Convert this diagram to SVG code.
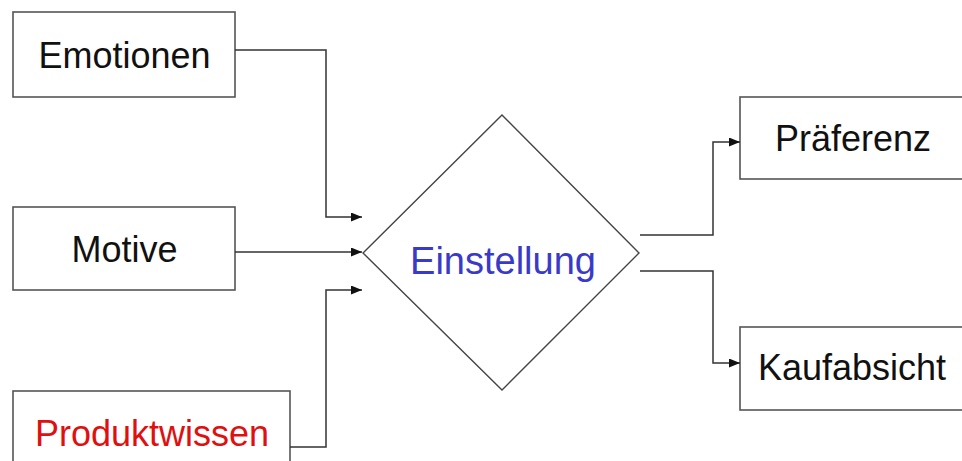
<svg xmlns="http://www.w3.org/2000/svg" width="962" height="461" viewBox="0 0 962 461">
<style>
.box{fill:#fff;stroke:#555;stroke-width:1.6}
.dia{fill:#fff;stroke:#444;stroke-width:1.4}
.lbl{font-family:"Liberation Sans",Arial,sans-serif;font-size:36px;fill:#111}
.con{fill:none;stroke:#333;stroke-width:1.5}
</style>
<defs>
<marker id="ah" viewBox="0 0 11 9" refX="11" refY="4.5" markerWidth="11" markerHeight="9" markerUnits="userSpaceOnUse" orient="auto">
<path d="M0,0 L11,4.5 L0,9 Z" fill="#111"/>
</marker>
</defs>
<rect width="962" height="461" fill="#fff"/>
<g id="emotionen">
<rect class="box" x="13" y="12" width="222" height="85"/>
<text class="lbl" x="124.5" y="68" text-anchor="middle">Emotionen</text>
</g>
<g id="motive">
<rect class="box" x="13" y="207" width="222" height="83"/>
<text class="lbl" x="124.5" y="262" text-anchor="middle">Motive</text>
</g>
<g id="produktwissen">
<rect class="box" x="13" y="391" width="277" height="90"/>
<text class="lbl" x="152" y="446" text-anchor="middle" style="fill:#e01010">Produktwissen</text>
</g>
<g id="einstellung">
<polygon class="dia" points="502,115 639,253 502,390 363,253"/>
<text class="lbl" x="503" y="274" text-anchor="middle" style="fill:#3a3ac8;font-size:38px">Einstellung</text>
</g>
<g id="praeferenz">
<rect class="box" x="740" y="97" width="240" height="82"/>
<text class="lbl" x="775" y="151">Präferenz</text>
</g>
<g id="kaufabsicht">
<rect class="box" x="740" y="327" width="240" height="83"/>
<text class="lbl" x="758" y="380">Kaufabsicht</text>
</g>
<g id="connectors">
<path class="con" d="M235,50 H326 V217 H362" marker-end="url(#ah)"/>
<path class="con" d="M235,252 H362" marker-end="url(#ah)"/>
<path class="con" d="M290,447 H326 V290 H362" marker-end="url(#ah)"/>
<path class="con" d="M640,235 H713 V142 H740" marker-end="url(#ah)"/>
<path class="con" d="M640,271 H713 V363 H740" marker-end="url(#ah)"/>
</g>
</svg>
